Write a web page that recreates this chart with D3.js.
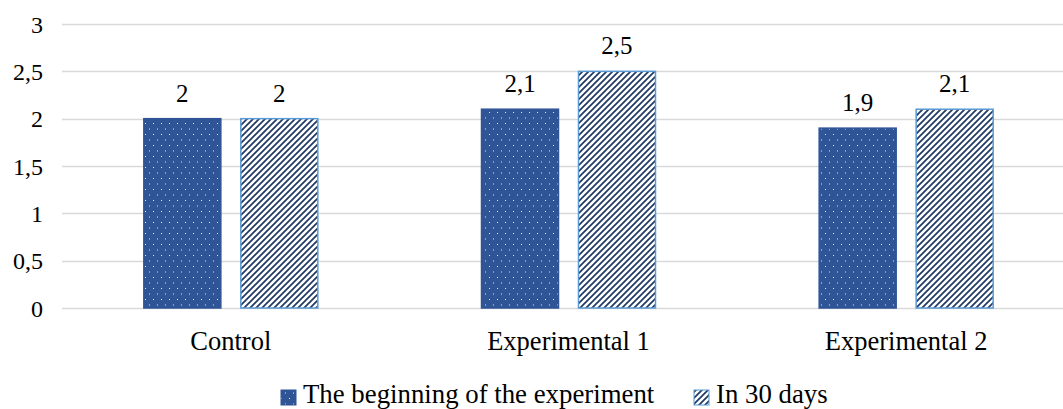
<!DOCTYPE html>
<html><head><meta charset="utf-8">
<script src="https://cdn.jsdelivr.net/npm/d3@7/dist/d3.min.js"></script>
<style>body{margin:0;background:#fff}svg{display:block}</style>
</head><body><div id="chart"></div>
<script>
const categories = ["Control", "Experimental 1", "Experimental 2"];
const seriesNames = ["The beginning of the experiment", "In 30 days"];
const beginning = [2, 2.1, 1.9];
const after30 = [2, 2.5, 2.1];
const valueLabels = [["2","2"],["2,1","2,5"],["1,9","2,1"]];
const yTicks = [0, 0.5, 1, 1.5, 2, 2.5, 3];
const yTickLabels = ["0","0,5","1","1,5","2","2,5","3"];

const W = 1063, H = 409;
const FONT = "Liberation Serif";
const svg = d3.select("#chart").append("svg").attr("width", W).attr("height", H);
const defs = svg.append("defs");
const dots = defs.append("pattern").attr("id","dots").attr("patternUnits","userSpaceOnUse").attr("width",8).attr("height",11);
dots.append("rect").attr("width",8).attr("height",11).attr("fill","#2F5597");
dots.append("rect").attr("x",1).attr("y",2).attr("width",1).attr("height",1).attr("fill","#dfe6f3");
dots.append("rect").attr("x",5).attr("y",7.5).attr("width",1).attr("height",1).attr("fill","#dfe6f3");
const hatch = defs.append("pattern").attr("id","hatch").attr("patternUnits","userSpaceOnUse").attr("width",6).attr("height",6);
hatch.append("rect").attr("width",6).attr("height",6).attr("fill","#fff");
hatch.append("path").attr("d","M-1,1 L1,-1 M0,6 L6,0 M5,7 L7,5").attr("stroke","#1F3864").attr("stroke-width",1.7);

const x0 = 62, x1 = 1075;
const y = d3.scaleLinear().domain([0,3]).range([308,24]);
const x = d3.scaleBand().domain(categories).range([x0,x1]).paddingInner(0).paddingOuter(0);
const xs = d3.scaleBand().domain([0,1]).range([-87,87]).paddingInner(0.206).paddingOuter(0);

function txt(sel){ return sel.attr("font-family",FONT).attr("fill","#000"); }

// grid
svg.append("g").selectAll("line").data(yTicks).join("line")
  .attr("x1",x0).attr("x2",W).attr("y1",d=>Math.round(y(d))+0.5).attr("y2",d=>Math.round(y(d))+0.5)
  .attr("stroke","#d9d9d9").attr("stroke-width",1.5);

// y labels
txt(svg.append("g").selectAll("text").data(yTicks).join("text"))
  .attr("x",43).attr("y",d=>y(d)+8.5).attr("text-anchor","end").attr("font-size",24)
  .text((d,i)=>yTickLabels[i]);

const series = [beginning, after30];
categories.forEach((c,ci)=>{
  const cx = x(c) + x.bandwidth()/2;
  series.forEach((s,si)=>{
    const bx = cx + xs(si);
    svg.append("rect").attr("x",bx).attr("y",y(s[ci])).attr("width",xs.bandwidth()).attr("height",y(0)-y(s[ci]))
      .attr("fill", si===0 ? "url(#dots)" : "url(#hatch)")
      .attr("stroke", si===0 ? "#2F5597" : "#5B9BD5").attr("stroke-width",1.5);
    txt(svg.append("text")).attr("x",bx+xs.bandwidth()/2).attr("y",y(s[ci])-17).attr("text-anchor","middle")
      .attr("font-size",25).text(valueLabels[ci][si]);
  });
  txt(svg.append("text")).attr("x",cx).attr("y",350).attr("text-anchor","middle").attr("font-size",26.5).text(c);
});

// legend
const leg = [{x:281, fill:"url(#dots)", stroke:"#2F5597"}, {x:694, fill:"url(#hatch)", stroke:"#5B9BD5"}];
leg.forEach((l,i)=>{
  svg.append("rect").attr("x",l.x).attr("y",390).attr("width",15).attr("height",15).attr("fill",l.fill).attr("stroke",l.stroke).attr("stroke-width",1);
  txt(svg.append("text")).attr("x",l.x+22).attr("y",403).attr("font-size",26.8).text(seriesNames[i]);
});
</script></body></html>
